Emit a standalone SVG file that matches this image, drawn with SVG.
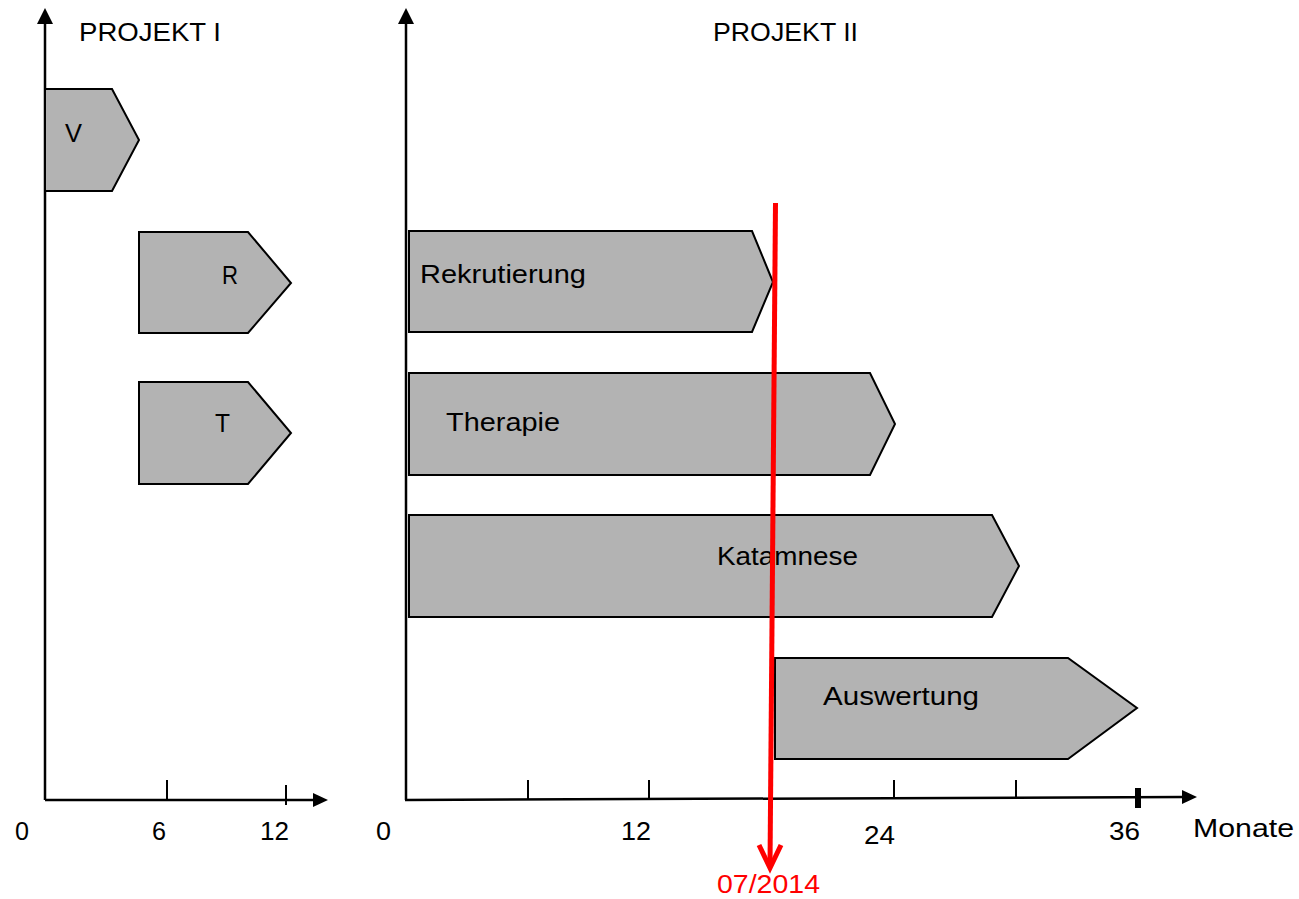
<svg xmlns="http://www.w3.org/2000/svg" width="1299" height="899" viewBox="0 0 1299 899">
  <style>
    .bar { fill: #b3b3b3; stroke: #000; stroke-width: 2; stroke-linejoin: miter; }
    .axis { stroke: #000; stroke-width: 2.5; fill: none; }
    .tick { stroke: #000; stroke-width: 2; }
    .lbl { font-family: "Liberation Sans", Arial, sans-serif; font-size: 25px; fill: #000; }
    .name { font-family: "Liberation Sans", Arial, sans-serif; font-size: 26.5px; fill: #000; }
    .title { font-family: "Liberation Sans", Arial, sans-serif; font-size: 26px; fill: #000; }
    .red { font-family: "Liberation Sans", Arial, sans-serif; font-size: 25.5px; fill: #ff0000; }
  </style>
  <rect width="1299" height="899" fill="#fff"/>

  <g id="connectors">
    <!-- Projekt I axes -->
    <line class="axis" x1="45" y1="800" x2="45" y2="22"/>
    <path d="M45,8 L37,24 L53,24 Z" fill="#000"/>
    <line class="axis" x1="45" y1="800" x2="314" y2="800"/>
    <path d="M328,800 L313,793 L313,807 Z" fill="#000"/>
    <line class="tick" x1="167" y1="780" x2="167" y2="800"/>
    <line class="tick" x1="286" y1="785" x2="286" y2="805"/>
    <!-- Projekt II axes -->
    <line class="axis" x1="406" y1="800" x2="406" y2="22"/>
    <path d="M406,8 L398,24 L414,24 Z" fill="#000"/>
    <line class="axis" x1="405" y1="800" x2="1184" y2="797"/>
    <path d="M1197,797 L1182,790 L1182,804 Z" fill="#000"/>
    <line class="tick" x1="528" y1="780" x2="528" y2="800"/>
    <line class="tick" x1="649" y1="780" x2="649" y2="800"/>
    <line class="tick" x1="894" y1="780" x2="894" y2="799"/>
    <line class="tick" x1="1016" y1="780" x2="1016" y2="798"/>
    <line x1="1138" y1="788" x2="1138" y2="808" stroke="#000" stroke-width="6"/>
  </g>

  <g id="title1"><text class="title" x="79" y="41" textLength="142" lengthAdjust="spacingAndGlyphs">PROJEKT I</text></g>
  <g id="title2"><text class="title" x="713" y="41" textLength="145" lengthAdjust="spacingAndGlyphs">PROJEKT II</text></g>

  <g id="node-V">
    <polygon class="bar" points="45,89 112,89 139,140 112,191 45,191"/>
    <text class="name" x="65" y="142" textLength="17" lengthAdjust="spacingAndGlyphs">V</text>
  </g>
  <g id="node-R">
    <polygon class="bar" points="139,232 248,232 291,283 248,333 139,333"/>
    <text class="name" x="222" y="284" textLength="16" lengthAdjust="spacingAndGlyphs">R</text>
  </g>
  <g id="node-T">
    <polygon class="bar" points="139,382 248,382 291,433 248,484 139,484"/>
    <text class="name" x="215" y="432" textLength="15" lengthAdjust="spacingAndGlyphs">T</text>
  </g>
  <g id="node-rekrutierung">
    <polygon class="bar" points="409,231 752,231 773,282 752,332 409,332"/>
    <text class="name" x="420" y="283" textLength="166" lengthAdjust="spacingAndGlyphs">Rekrutierung</text>
  </g>
  <g id="node-therapie">
    <polygon class="bar" points="409,373 870,373 895,424 870,475 409,475"/>
    <text class="name" x="446" y="431" textLength="114" lengthAdjust="spacingAndGlyphs">Therapie</text>
  </g>
  <g id="node-katamnese">
    <polygon class="bar" points="409,515 992,515 1019,566 992,617 409,617"/>
    <text class="name" x="717" y="565" textLength="141" lengthAdjust="spacingAndGlyphs">Katamnese</text>
  </g>
  <g id="node-auswertung">
    <polygon class="bar" points="775,658 1068,658 1137,708 1068,759 775,759"/>
    <text class="name" x="823" y="705" textLength="156" lengthAdjust="spacingAndGlyphs">Auswertung</text>
  </g>

  <g id="axis-labels">
    <text class="lbl" x="15" y="840" textLength="14" lengthAdjust="spacingAndGlyphs">0</text>
    <text class="lbl" x="152" y="840" textLength="14" lengthAdjust="spacingAndGlyphs">6</text>
    <text class="lbl" x="260" y="840" textLength="29" lengthAdjust="spacingAndGlyphs">12</text>
    <text class="lbl" x="376" y="840" textLength="15" lengthAdjust="spacingAndGlyphs">0</text>
    <text class="lbl" x="621" y="840" textLength="30" lengthAdjust="spacingAndGlyphs">12</text>
    <text class="lbl" x="864" y="844" textLength="31" lengthAdjust="spacingAndGlyphs">24</text>
    <text class="lbl" x="1109" y="840" textLength="31" lengthAdjust="spacingAndGlyphs">36</text>
    <text class="name" x="1193" y="837" textLength="101" lengthAdjust="spacingAndGlyphs">Monate</text>
  </g>

  <g id="node-stichtag">
    <line x1="775.5" y1="203" x2="770" y2="866" stroke="#ff0000" stroke-width="5"/>
    <polyline points="759,845 770,868 781,845" fill="none" stroke="#ff0000" stroke-width="5" stroke-linejoin="miter"/>
    <text class="red" x="717" y="893" textLength="103" lengthAdjust="spacingAndGlyphs">07/2014</text>
  </g>
</svg>
